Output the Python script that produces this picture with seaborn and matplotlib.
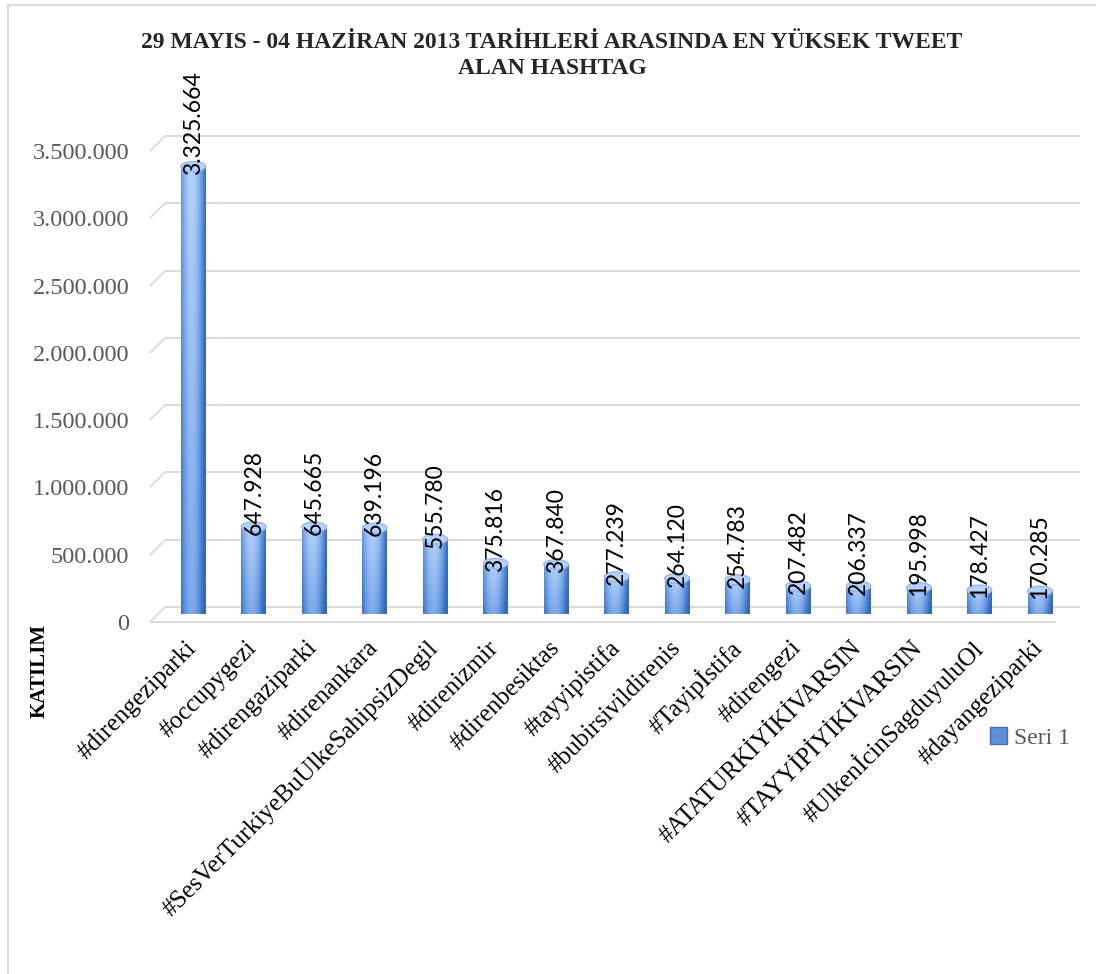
import matplotlib
matplotlib.use("Agg")
import matplotlib.pyplot as plt
import matplotlib.transforms as mtransforms
from matplotlib.colors import LinearSegmentedColormap
from matplotlib.patches import Ellipse, Patch, Rectangle
from matplotlib.path import Path
import numpy as np
import pandas as pd
import seaborn as sns


hashtags = [
    "#direngeziparki", "#occupygezi", "#direngaziparki", "#direnankara",
    "#SesVerTurkiyeBuUlkeSahipsizDegil", "#direnizmir", "#direnbesiktas",
    "#tayyipistifa", "#bubirsivildirenis", "#Tayipİstifa", "#direngezi",
    "#ATATURKİYİKİVARSIN", "#TAYYİPİYİKİVARSIN", "#UlkenİcinSagduyuluOl",
    "#dayangeziparki",
]
tweets = [
    3325664, 647928, 645665, 639196, 555780, 375816, 367840, 277239,
    264120, 254783, 207482, 206337, 195998, 178427, 170285,
]
y_ticks = [0, 500000, 1000000, 1500000, 2000000, 2500000, 3000000, 3500000]
series_name = "Seri 1"
title = "29 MAYIS - 04 HAZİRAN 2013 TARİHLERİ ARASINDA EN YÜKSEK TWEET\nALAN HASHTAG"
y_label = "KATILIM"


def tr_number(v: int) -> str:
    # Turkish thousands separator
    return f"{v:,}".replace(",", ".")


sns.set_theme(style="white")
plt.rcParams["font.family"] = ["Liberation Serif", "DejaVu Serif"]

W, H = 1096, 974
fig = plt.figure(figsize=(W / 100, H / 100), dpi=100)


def px_box(left, top, right, bottom):
    return [left / W, 1 - bottom / H, (right - left) / W, (bottom - top) / H]


ax = fig.add_axes(px_box(157, 143, 1072, 614))
frame = pd.DataFrame({"hashtag": hashtags, "tweets": tweets})
sns.barplot(data=frame, x="hashtag", y="tweets", width=0.41, color="#4f81bd", ax=ax, zorder=3)

YMAX = 3_500_000
XMIN, XMAX = -0.6, 14.53
data_per_px = YMAX / (614 - 143)
cap_h = 10 * data_per_px

# cylinder shading: light near the left-centre and top, darker at the edges and bottom
cyl_cmap = LinearSegmentedColormap.from_list("cyl", ["#b3d1fa", "#80abea", "#5088d6", "#3668bc"])
gx, gy = np.meshgrid(np.linspace(-1, 1, 80), np.linspace(0, 1, 80))
shade = np.clip(0.35 * (1 - gy) + 0.75 * np.abs(gx + 0.15) ** 2.0, 0, 1)

for bar in list(ax.patches):
    x0, w, h = bar.get_x(), bar.get_width(), bar.get_height()
    cx = x0 + w / 2
    bar.set_facecolor("none")
    bar.set_edgecolor("none")
    im = ax.imshow(shade, cmap=cyl_cmap, vmin=0, vmax=1, origin="lower", aspect="auto",
                   extent=(x0, x0 + w, 0, h), zorder=3, interpolation="bilinear")
    im.set_clip_path(bar)
    # rounded bottom
    bottom = Ellipse((cx, 0), w, cap_h, facecolor="none", edgecolor="none", zorder=3)
    ax.add_patch(bottom)
    im_b = ax.imshow(shade[:2], cmap=cyl_cmap, vmin=0, vmax=1, origin="lower", aspect="auto",
                     extent=(x0, x0 + w, -cap_h, 0), zorder=3, interpolation="bilinear")
    im_b.set_clip_path(bottom)
    # top cap
    ax.add_patch(Ellipse((cx, h), w, cap_h, facecolor="#b6d2f8", edgecolor="#8cb2ea",
                         linewidth=0.8, zorder=4))

ax.set_xlim(XMIN, XMAX)
ax.set_ylim(0, YMAX)

ax.bar_label(ax.containers[0], labels=[tr_number(v) for v in tweets], rotation=90,
             padding=-6, fontsize=16.5, family=["Lato", "DejaVu Sans"], color="black", zorder=5)

# back wall gridlines + left-side depth diagonals, front floor edge
grid_c = "#d9d9d9"
back = mtransforms.offset_copy(ax.transData, fig=fig, x=8, y=7, units="dots")
front = mtransforms.offset_copy(ax.transData, fig=fig, x=-7, y=-8, units="dots")
ax.hlines(y_ticks, XMIN, XMAX, colors=grid_c, linewidth=1.4, transform=back, zorder=1, clip_on=False)
ax.hlines([0], XMIN, XMAX - 0.15, colors=grid_c, linewidth=1.4, transform=front, zorder=1, clip_on=False)
diag = Path([(-1, -1), (1, 1)])
ax.plot([XMIN] * len(y_ticks), y_ticks, linestyle="none", marker=diag, markersize=10.8,
        markeredgecolor=grid_c, markeredgewidth=1.2, clip_on=False, zorder=1)

for side in ax.spines.values():
    side.set_visible(False)

ax.set_yticks(y_ticks)
ax.set_yticklabels([tr_number(v) for v in y_ticks])
ax.tick_params(axis="y", length=0, pad=20, labelsize=17.5, labelcolor="#595959")
ax.set_xticks(range(len(hashtags)))
ax.set_xticklabels(hashtags)
ax.tick_params(axis="x", length=0, pad=22, labelsize=18, labelcolor="black")
for lab in ax.get_xticklabels():
    lab.set_rotation(45)
    lab.set_ha("right")
    lab.set_va("center")
    lab.set_rotation_mode("anchor")
ylab_shift = mtransforms.ScaledTranslation(0, -8 / 100, fig.dpi_scale_trans)
for lab in ax.get_yticklabels():
    lab.set_transform(lab.get_transform() + ylab_shift)

ax.set_xlabel("")
ax.set_ylabel(y_label, fontsize=15, fontweight="bold", color="black")
ax.yaxis.set_label_coords(-0.117, -0.12)

fig.suptitle(title, x=552 / W, y=1 - 32 / H, va="top", fontsize=17, fontweight="bold",
             linespacing=1.3)

handle = Patch(facecolor="#5b8fd6", edgecolor="#3d6fbf")
fig.legend([handle], [series_name], loc="center left", bbox_to_anchor=(990 / W, 1 - 738 / H),
           frameon=False, fontsize=17, labelcolor="#595959", handlelength=0.7,
           handleheight=0.7, handletextpad=0.3, borderpad=0, borderaxespad=0)

fig.patches.append(Rectangle((8 / W, -0.05), 1.1, 1.05 - 5 / H, transform=fig.transFigure,
                             fill=False, edgecolor="#d9d9d9", linewidth=1.5, zorder=0))

fig.savefig("out.png", dpi=100)
